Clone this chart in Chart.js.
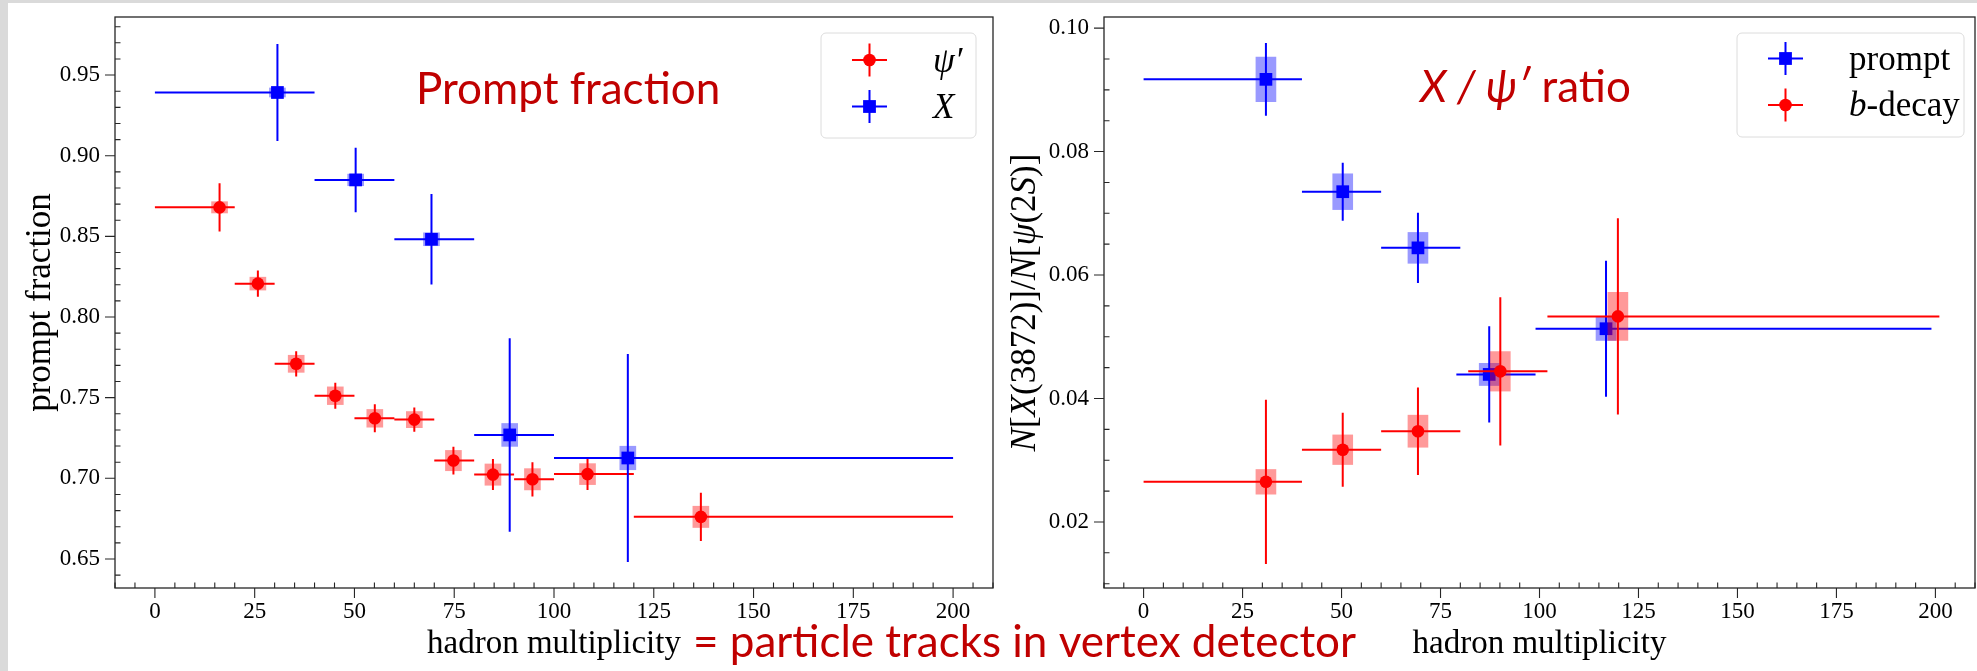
<!DOCTYPE html>
<html>
<head>
  <title>Prompt fraction and X/psi' ratio</title>
  <script src="https://cdn.jsdelivr.net/npm/chart.js"></script>
  <style>
    body { margin: 0; width: 1977px; height: 671px; overflow: hidden; position: relative; background: #dadada; }
    #sheet { position: absolute; left: 8px; top: 3px; right: 0; bottom: 0; background: #fff; }
    canvas { position: absolute; left: 0; top: 0; }
  </style>
</head>
<body>
  <div id="sheet"></div>
  <canvas id="left" width="1977" height="671"></canvas>
  <canvas id="right" width="1977" height="671"></canvas>
  <script>
    // ---- left panel: prompt fraction ----
    const psiX    = [16.2, 25.8, 35.4, 45.2, 55.1, 65.0, 74.8, 84.7, 94.6, 108.4, 136.8];
    const psiXlo  = [0, 20, 30, 40, 50, 60, 70, 80, 90, 100, 120];
    const psiXhi  = [20, 30, 40, 50, 60, 70, 80, 90, 100, 120, 200];
    const psiY    = [0.868, 0.8207, 0.771, 0.7512, 0.7372, 0.7364, 0.711, 0.7023, 0.6994, 0.7026, 0.6761];
    const psiStat = [0.015, 0.0082, 0.0078, 0.008, 0.0087, 0.0075, 0.0086, 0.0096, 0.0106, 0.0098, 0.015];
    const psiSyst = [0.0035, 0.004, 0.0053, 0.0055, 0.0055, 0.005, 0.0063, 0.0066, 0.0066, 0.0065, 0.0066];

    const xX    = [30.7, 50.3, 69.3, 88.9, 118.5];
    const xXlo  = [0, 40, 60, 80, 100];
    const xXhi  = [40, 60, 80, 100, 200];
    const xY    = [0.9392, 0.885, 0.8482, 0.7269, 0.7126];
    const xStat = [0.030, 0.020, 0.028, 0.060, 0.0645];
    const xSyst = [0.0028, 0.0036, 0.004, 0.0071, 0.0073];

    // ---- right panel: X/psi' ratio ----
    const prX    = [30.9, 50.3, 69.3, 87.3, 116.8];
    const prXlo  = [0, 40, 60, 79, 99];
    const prXhi  = [40, 60, 80, 99, 199];
    const prY    = [0.0917, 0.0735, 0.0644, 0.0439, 0.0513];
    const prStat = [0.0059, 0.0047, 0.0057, 0.0078, 0.011];
    const prSyst = [0.0036, 0.0029, 0.0025, 0.0018, 0.0019];

    const bX    = [30.9, 50.3, 69.3, 90.1, 119.8];
    const bXlo  = [0, 40, 60, 82, 102];
    const bXhi  = [40, 60, 80, 102, 201];
    const bY    = [0.0265, 0.0317, 0.0347, 0.0444, 0.0533];
    const bStat = [0.0133, 0.006, 0.0071, 0.012, 0.0159];
    const bSyst = [0.002, 0.0024, 0.0026, 0.0032, 0.0039];

    // ticks
    const xTicks  = [0, 25, 50, 75, 100, 125, 150, 175, 200];
    const yTicksL = [0.65, 0.70, 0.75, 0.80, 0.85, 0.90, 0.95];
    const yTicksR = [0.02, 0.04, 0.06, 0.08, 0.10];

    const RED = '#ff0000', BLUE = '#0000ff', NOTE = '#c00000';
    const SERIF = '"Liberation Serif", serif';

    function errLines(xs, ys, lo, hi, err) {
      const d = [];
      xs.forEach((x, i) => {
        d.push({x: lo[i], y: ys[i]}, {x: hi[i], y: ys[i]}, {x: null, y: null});
        d.push({x: x, y: ys[i] - err[i]}, {x: x, y: ys[i] + err[i]}, {x: null, y: null});
      });
      return d;
    }

    function series(xs, ys, lo, hi, stat, syst, color, fill, style, order, boxW) {
      return [
        { type: 'bar', data: xs.map((x, i) => ({x: x, y: [ys[i] - syst[i], ys[i] + syst[i]]})),
          backgroundColor: fill, borderWidth: 0, barThickness: boxW, grouped: false, order: order + 2 },
        { type: 'line', data: errLines(xs, ys, lo, hi, stat), borderColor: color, borderWidth: 2,
          pointRadius: 0, spanGaps: false, fill: false, tension: 0, order: order + 1 },
        { type: 'scatter', data: xs.map((x, i) => ({x: x, y: ys[i]})), pointStyle: style,
          pointRadius: style === 'rect' ? 9 : 6.3, backgroundColor: color, borderWidth: 0, order: order }
      ];
    }

    function drawRich(ctx, parts, x, y, size, family, align, rot, color) {
      ctx.save();
      ctx.translate(x, y);
      if (rot) ctx.rotate(rot);
      ctx.textBaseline = 'alphabetic';
      ctx.textAlign = 'left';
      ctx.fillStyle = color || '#000';
      const fontOf = p => (p[1] ? 'italic ' : '') + size + 'px ' + family;
      let w = 0;
      parts.forEach(p => { ctx.font = fontOf(p); w += ctx.measureText(p[0]).width; });
      let cx = align === 'center' ? -w / 2 : 0;
      parts.forEach(p => { ctx.font = fontOf(p); ctx.fillText(p[0], cx, 0); cx += ctx.measureText(p[0]).width; });
      ctx.restore();
    }

    function legendGlyph(ctx, cx, cy, color, style) {
      ctx.strokeStyle = color; ctx.fillStyle = color; ctx.lineWidth = 2;
      ctx.beginPath();
      ctx.moveTo(cx - 17.5, cy); ctx.lineTo(cx + 17.5, cy);
      ctx.moveTo(cx, cy - 16.5); ctx.lineTo(cx, cy + 16.5);
      ctx.stroke();
      ctx.beginPath();
      if (style === 'rect') ctx.rect(cx - 6.4, cy - 6.4, 12.8, 12.8);
      else ctx.arc(cx, cy, 6.3, 0, Math.PI * 2);
      ctx.fill();
    }

    const deco = {
      id: 'deco',
      afterDatasetsDraw(chart, args, o) {
        const ctx = chart.ctx, a = chart.chartArea;
        const sx = chart.scales.x, sy = chart.scales.y;
        ctx.save();
        // frame
        ctx.strokeStyle = '#262626';
        ctx.lineWidth = 1.3;
        ctx.strokeRect(a.left, a.top, a.right - a.left, a.bottom - a.top);
        // ticks: major outward, minor inward
        ctx.beginPath();
        ctx.lineWidth = 1.1;
        xTicks.forEach(v => { const p = sx.getPixelForValue(v); ctx.moveTo(p, a.bottom); ctx.lineTo(p, a.bottom + 10); });
        o.yTicks.forEach(v => { const p = sy.getPixelForValue(v); ctx.moveTo(a.left, p); ctx.lineTo(a.left - 10, p); });
        for (let k = Math.ceil(sx.min / 5); k * 5 <= sx.max; k++) {
          if (k % 5 === 0) continue;
          const p = sx.getPixelForValue(k * 5);
          ctx.moveTo(p, a.bottom); ctx.lineTo(p, a.bottom - 5.5);
        }
        for (let k = Math.ceil(sy.min / o.yMinor - 1e-6); k * o.yMinor <= sy.max + 1e-9; k++) {
          if (k % o.yMinorPer === 0) continue;
          const p = sy.getPixelForValue(k * o.yMinor);
          ctx.moveTo(a.left, p); ctx.lineTo(a.left + 5.5, p);
        }
        ctx.stroke();

        // axis titles
        drawRich(ctx, [['hadron multiplicity', 0]], (a.left + a.right) / 2, 653, 33, SERIF, 'center');
        drawRich(ctx, o.yTitle, o.yTitleX, (a.top + a.bottom) / 2, 35, SERIF, 'center', -Math.PI / 2);

        // legend
        const L = o.legend;
        ctx.beginPath();
        ctx.roundRect(L.x, L.y, L.w, L.h, 5);
        ctx.fillStyle = 'rgba(255,255,255,0.8)';
        ctx.fill();
        ctx.strokeStyle = '#dcdcdc';
        ctx.lineWidth = 1;
        ctx.stroke();
        L.items.forEach(it => {
          legendGlyph(ctx, L.x + 48.5, it.cy, it.color, it.style);
          drawRich(ctx, it.label, L.x + 112, it.base, 35, SERIF, 'left');
        });

        // slide notes
        (o.notes || []).forEach(n => drawRich(ctx, n.parts, n.x, n.y, n.size, 'Lato, sans-serif', 'left', 0, NOTE));
        ctx.restore();
      }
    };

    function makeChart(id, sets, yMin, yMax, yTicks, yDigits, pad, yWidth, decoOpts) {
      return new Chart(document.getElementById(id), {
        type: 'scatter',
        data: { datasets: sets },
        plugins: [deco],
        options: {
          responsive: false,
          animation: false,
          events: [],
          layout: { padding: pad, autoPadding: false },
          plugins: { legend: { display: false }, tooltip: { enabled: false }, deco: decoOpts },
          scales: {
            x: {
              type: 'linear', min: -10, max: 210, offset: false,
              grid: { display: false, drawTicks: false }, border: { display: false },
              ticks: { font: { family: SERIF, size: 23 }, color: '#000', padding: 10, maxRotation: 0, autoSkip: false,
                       callback: v => String(v) },
              afterBuildTicks: s => { s.ticks = xTicks.map(v => ({ value: v })); },
              afterFit: s => { s.height = 83; s.paddingLeft = 0; s.paddingRight = 0; }
            },
            y: {
              type: 'linear', min: yMin, max: yMax,
              grid: { display: false, drawTicks: false }, border: { display: false },
              ticks: { font: { family: SERIF, size: 23 }, color: '#000', padding: 15, autoSkip: false,
                       callback: v => v.toFixed(yDigits) },
              afterBuildTicks: s => { s.ticks = yTicks.map(v => ({ value: v })); },
              afterFit: s => { s.width = yWidth; s.paddingTop = 0; s.paddingBottom = 0; }
            }
          }
        }
      });
    }

    makeChart('left',
      [].concat(
        series(psiX, psiY, psiXlo, psiXhi, psiStat, psiSyst, RED, 'rgba(255,0,0,0.4)', 'circle', 4, 16),
        series(xX, xY, xXlo, xXhi, xStat, xSyst, BLUE, 'rgba(0,0,255,0.4)', 'rect', 1, 16)
      ),
      0.632, 0.986, yTicksL, 2,
      { left: 0, right: 984, top: 17, bottom: 0 }, 115,
      {
        yTicks: yTicksL, yMinor: 0.01, yMinorPer: 5,
        yTitle: [['prompt fraction', 0]], yTitleX: 50,
        legend: { x: 821, y: 33, w: 155, h: 105, items: [
          { cy: 60, base: 72, color: RED, style: 'circle', label: [['ψ′', 1]] },
          { cy: 106.5, base: 118, color: BLUE, style: 'rect', label: [['X', 1]] }
        ] },
        notes: [
          { parts: [['Prompt fraction', 0]], x: 416, y: 104, size: 44 },
          { parts: [['= particle tracks in vertex detector', 0]], x: 693, y: 657, size: 44 }
        ]
      });

    makeChart('right',
      [].concat(
        series(prX, prY, prXlo, prXhi, prStat, prSyst, BLUE, 'rgba(0,0,255,0.4)', 'rect', 4, 20),
        series(bX, bY, bXlo, bXhi, bStat, bSyst, RED, 'rgba(255,0,0,0.4)', 'circle', 1, 20)
      ),
      0.0093, 0.1018, yTicksR, 2,
      { left: 1000, right: 2, top: 17, bottom: 0 }, 104,
      {
        yTicks: yTicksR, yMinor: 0.005, yMinorPer: 4,
        yTitle: [['N', 1], ['[', 0], ['X', 1], ['(3872)]/', 0], ['N', 1], ['[', 0], ['ψ', 1], ['(2', 0], ['S', 1], [')]', 0]],
        yTitleX: 1035,
        legend: { x: 1737, y: 33, w: 227, h: 104, items: [
          { cy: 58.5, base: 70, color: BLUE, style: 'rect', label: [['prompt', 0]] },
          { cy: 105, base: 116, color: RED, style: 'circle', label: [['b', 1], ['-decay', 0]] }
        ] },
        notes: [
          { parts: [['X / ψ′', 1], [' ratio', 0]], x: 1420, y: 102, size: 44 }
        ]
      });
  </script>
</body>
</html>
